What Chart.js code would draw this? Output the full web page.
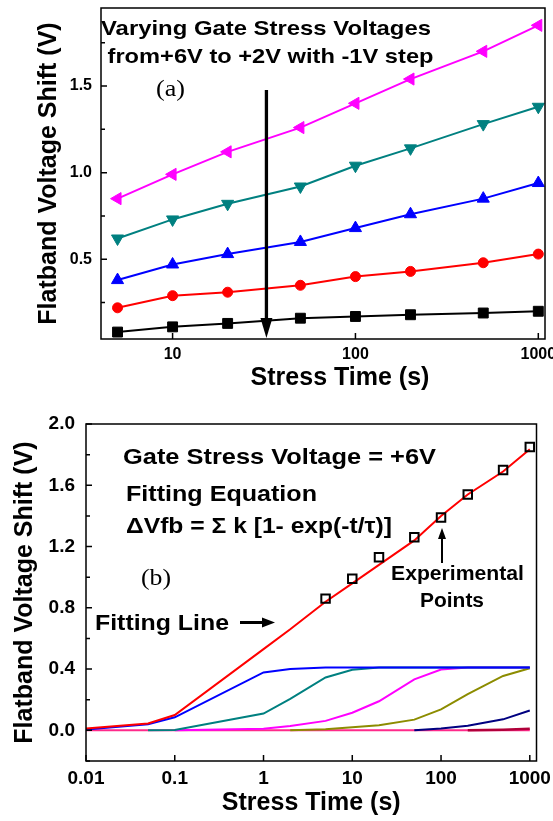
<!DOCTYPE html>
<html>
<head>
<meta charset="utf-8">
<script src="https://cdn.jsdelivr.net/npm/chart.js@4.4.1/dist/chart.umd.min.js"></script>
<style>
  html, body { margin: 0; padding: 0; background: #fff; }
  #wrap { position: relative; width: 553px; height: 821px; overflow: hidden; }
  .box { position: absolute; left: 0; width: 553px; }
</style>
</head>
<body>
<div id="wrap">
  <div class="box" style="top:0;height:400px"><canvas id="chartA"></canvas></div>
  <div class="box" style="top:400px;height:421px"><canvas id="chartB"></canvas></div>
</div>
<script>
// panel (a): flatband shift vs stress time, gate stress +6V down to +2V
const timesA = [5, 10, 20, 50, 100, 200, 500, 1000];
const shift6V = [0.85, 0.99, 1.12, 1.26, 1.40, 1.54, 1.70, 1.85];
const shift5V = [0.62, 0.73, 0.82, 0.92, 1.04, 1.14, 1.28, 1.38];
const shift4V = [0.38, 0.47, 0.53, 0.60, 0.68, 0.76, 0.85, 0.94];
const shift3V = [0.22, 0.29, 0.31, 0.35, 0.40, 0.43, 0.48, 0.53];
const shift2V = [0.08, 0.11, 0.13, 0.16, 0.17, 0.18, 0.19, 0.20];
const yTicksA = [0.5, 1.0, 1.5];
const yMinorA = [0.25, 0.75, 1.25, 1.75];
const xTicksA = [10, 100, 1000];

// panel (b): +6V data with fitting line and its exponential terms
const expPoints = [0.86, 0.99, 1.13, 1.26, 1.39, 1.54, 1.70, 1.85];
const timesB = [0.01, 0.05, 0.1, 1, 2, 5, 10, 20, 50, 100, 200, 500, 1000];
const fitLine = [0.012, 0.045, 0.10, 0.53, 0.66, 0.84, 0.96, 1.08, 1.24, 1.40, 1.54, 1.69, 1.835];
const term1 = [0.005, 0.04, 0.085, 0.378, 0.40, 0.41, 0.41, 0.41, 0.41, 0.41, 0.41, 0.41, 0.41];
const term2 = [null, 0.0, 0.003, 0.11, 0.205, 0.345, 0.395, 0.41, 0.41, 0.41, 0.41, 0.41, 0.41];
const term3 = [null, null, 0.0, 0.01, 0.028, 0.062, 0.115, 0.19, 0.333, 0.397, 0.41, 0.41, 0.41];
const term4 = [null, null, null, null, 0.0, 0.008, 0.02, 0.033, 0.07, 0.137, 0.236, 0.355, 0.405];
const term5 = [null, null, null, null, null, null, null, null, 0.0, 0.012, 0.03, 0.072, 0.13];
const term6 = [null, null, null, null, null, null, null, null, null, null, 0.0, 0.004, 0.01];
const term7 = [0, 0, 0, 0, 0, 0, 0, 0, 0, 0, 0, 0, 0];
const yTicksB = [0.0, 0.4, 0.8, 1.2, 1.6, 2.0];
const yMinorB = [-0.2, 0.2, 0.6, 1.0, 1.4, 1.8];
const xTicksB = [0.01, 0.1, 1, 10, 100, 1000];

const FONT = '"Liberation Sans", Arial, Helvetica, sans-serif';
const SERIF = '"Liberation Serif", "Times New Roman", serif';

function pts(xs, ys) {
    return xs.map((x, i) => ({ x: x, y: ys[i] }));
}

function fitText(ctx, text, x, y, font, width) {
    ctx.save();
    ctx.font = font;
    ctx.textAlign = "left";
    ctx.textBaseline = "alphabetic";
    ctx.fillStyle = "#000";
    const w = ctx.measureText(text).width;
    ctx.translate(x, y);
    ctx.scale(width / w, 1);
    ctx.fillText(text, 0, 0);
    ctx.restore();
}

function arrow(ctx, x1, y1, x2, y2, lw, headLen, headHalf) {
    const ang = Math.atan2(y2 - y1, x2 - x1);
    const bx = x2 - Math.cos(ang) * headLen;
    const by = y2 - Math.sin(ang) * headLen;
    ctx.save();
    ctx.strokeStyle = "#000";
    ctx.fillStyle = "#000";
    ctx.lineWidth = lw;
    ctx.beginPath();
    ctx.moveTo(x1, y1);
    ctx.lineTo(bx, by);
    ctx.stroke();
    ctx.beginPath();
    ctx.moveTo(x2, y2);
    ctx.lineTo(bx + Math.sin(ang) * headHalf, by - Math.cos(ang) * headHalf);
    ctx.lineTo(bx - Math.sin(ang) * headHalf, by + Math.cos(ang) * headHalf);
    ctx.closePath();
    ctx.fill();
    ctx.restore();
}

// box around plot + inward tick marks
const frameTicks = {
    id: "frameTicks",
    afterDatasetsDraw(chart, args, opts) {
        const { ctx, chartArea: a, scales: { x, y } } = chart;
        ctx.save();
        ctx.strokeStyle = "#000";
        ctx.lineWidth = 1.5;
        ctx.strokeRect(a.left, a.top, a.right - a.left, a.bottom - a.top);
        ctx.beginPath();
        y.ticks.forEach(t => {
            const py = y.getPixelForValue(t.value);
            ctx.moveTo(a.left, py);
            ctx.lineTo(a.left + 6, py);
        });
        opts.yMinor.forEach(v => {
            const py = y.getPixelForValue(v);
            ctx.moveTo(a.left, py);
            ctx.lineTo(a.left + 4, py);
        });
        x.ticks.forEach(t => {
            const px = x.getPixelForValue(t.value);
            ctx.moveTo(px, a.bottom);
            ctx.lineTo(px, a.bottom - 6);
        });
        ctx.stroke();
        ctx.restore();
    }
};

function axisFont(size) {
    return { family: FONT, size: size, weight: "bold" };
}

// ---------- panel (a) ----------
const notesA = {
    id: "notesA",
    afterDraw(chart) {
        const ctx = chart.ctx;
        const x = chart.scales.x;
        fitText(ctx, "Varying Gate Stress Voltages", 101, 35, "bold 21px " + FONT, 330);
        fitText(ctx, "from+6V to +2V with -1V step", 107.5, 63, "bold 21px " + FONT, 326);
        fitText(ctx, "(a)", 156, 96, "24px " + SERIF, 29);
        const ax = x.getPixelForValue(32.6);
        arrow(ctx, ax, 90, ax, 338, 3.3, 20, 6);
        ctx.save();
        ctx.font = "bold 25px " + FONT;
        ctx.fillStyle = "#000";
        ctx.textAlign = "center";
        ctx.textBaseline = "alphabetic";
        ctx.fillText("Stress Time (s)", 340, 385);
        ctx.restore();
    }
};

new Chart(document.getElementById("chartA"), {
    type: "line",
    data: {
        datasets: [
            { label: "+2V", data: pts(timesA, shift2V), borderColor: "#000000", backgroundColor: "#000000",
              pointStyle: "rect", pointRadius: 7 },
            { label: "+3V", data: pts(timesA, shift3V), borderColor: "#ff0000", backgroundColor: "#ff0000",
              pointStyle: "circle", pointRadius: 5 },
            { label: "+4V", data: pts(timesA, shift4V), borderColor: "#0000ff", backgroundColor: "#0000ff",
              pointStyle: "triangle", pointRadius: 7 },
            { label: "+5V", data: pts(timesA, shift5V), borderColor: "#008080", backgroundColor: "#008080",
              pointStyle: "triangle", pointRotation: 180, pointRadius: 7 },
            { label: "+6V", data: pts(timesA, shift6V), borderColor: "#ff00ff", backgroundColor: "#ff00ff",
              pointStyle: "triangle", pointRotation: -90, pointRadius: 7 }
        ]
    },
    options: {
        responsive: true,
        maintainAspectRatio: false,
        animation: false,
        devicePixelRatio: 1,
        layout: { padding: { left: 0, right: 8, top: 4, bottom: 0 } },
        elements: {
            line: { borderWidth: 2, tension: 0 },
            point: { borderWidth: 1, hoverRadius: 7 }
        },
        plugins: {
            legend: { display: false },
            tooltip: { enabled: false },
            frameTicks: { yMinor: yMinorA }
        },
        scales: {
            x: {
                type: "logarithmic",
                min: 4.06,
                max: 1088,
                afterBuildTicks: s => { s.ticks = xTicksA.map(v => ({ value: v })); },
                afterFit: s => { s.height = 61; s.paddingLeft = 0; s.paddingRight = 0; },
                grid: { display: false, drawTicks: false },
                border: { display: false },
                ticks: {
                    color: "#000", font: axisFont(16), padding: 6,
                    autoSkip: false, maxRotation: 0,
                    callback: v => String(v)
                },
                title: { display: false }
            },
            y: {
                type: "linear",
                min: 0.04,
                max: 1.95,
                afterBuildTicks: s => { s.ticks = yTicksA.map(v => ({ value: v })); },
                afterFit: s => { s.width = 101; s.paddingTop = 0; s.paddingBottom = 0; },
                grid: { display: false, drawTicks: false },
                border: { display: false },
                ticks: {
                    color: "#000", font: axisFont(16), padding: 9,
                    callback: v => v.toFixed(1)
                },
                title: {
                    display: true, text: "Flatband Voltage Shift (V)", color: "#000",
                    font: axisFont(25), padding: { top: 34, bottom: 0 }
                }
            }
        }
    },
    plugins: [frameTicks, notesA]
});

// ---------- panel (b) ----------
const notesB = {
    id: "notesB",
    afterDraw(chart) {
        const ctx = chart.ctx;
        fitText(ctx, "Gate Stress Voltage = +6V", 123, 64, "bold 22px " + FONT, 313);
        fitText(ctx, "Fitting Equation", 126, 101, "bold 22px " + FONT, 191);
        fitText(ctx, "\u0394Vfb = \u03a3 k [1- exp(-t/\u03c4)]", 126, 133, "bold 22px " + FONT, 266);
        fitText(ctx, "(b)", 141, 185, "24px " + SERIF, 30);
        fitText(ctx, "Experimental", 391, 180, "bold 20px " + FONT, 133);
        fitText(ctx, "Points", 420, 206.5, "bold 20px " + FONT, 64);
        fitText(ctx, "Fitting Line", 95, 230, "bold 22px " + FONT, 134);
        arrow(ctx, 240, 222.5, 275, 222.5, 3, 13, 5);
        arrow(ctx, 442, 163, 442, 128, 2, 11, 4);
    }
};

new Chart(document.getElementById("chartB"), {
    type: "line",
    data: {
        datasets: [
            { label: "Experimental Points", data: pts(timesA, expPoints), showLine: false,
              borderColor: "#000", backgroundColor: "rgba(0,0,0,0)", pointStyle: "rect",
              pointRadius: 6, pointBorderWidth: 2 },
            { label: "Fitting Line", data: pts(timesB, fitLine), borderColor: "#ff0000", pointRadius: 0 },
            { label: "term 1", data: pts(timesB, term1), borderColor: "#0000ff", pointRadius: 0 },
            { label: "term 2", data: pts(timesB, term2), borderColor: "#008080", pointRadius: 0 },
            { label: "term 3", data: pts(timesB, term3), borderColor: "#ff00ff", pointRadius: 0 },
            { label: "term 4", data: pts(timesB, term4), borderColor: "#8c8c00", pointRadius: 0 },
            { label: "term 5", data: pts(timesB, term5), borderColor: "#000080", pointRadius: 0 },
            { label: "term 6", data: pts(timesB, term6), borderColor: "#b0003a", pointRadius: 0, borderWidth: 2.5 },
            { label: "term 7", data: pts(timesB, term7), borderColor: "#ff2a8a", pointRadius: 0 }
        ]
    },
    options: {
        responsive: true,
        maintainAspectRatio: false,
        animation: false,
        devicePixelRatio: 1,
        layout: { padding: { left: 0, right: 16.5, top: 24, bottom: 0 } },
        elements: {
            line: { borderWidth: 2, tension: 0 },
            point: { hoverRadius: 6 }
        },
        plugins: {
            legend: { display: false },
            tooltip: { enabled: false },
            frameTicks: { yMinor: yMinorB }
        },
        scales: {
            x: {
                type: "logarithmic",
                min: 0.01,
                max: 1190,
                afterBuildTicks: s => { s.ticks = xTicksB.map(v => ({ value: v })); },
                afterFit: s => { s.height = 60; s.paddingLeft = 0; s.paddingRight = 0; },
                grid: { display: false, drawTicks: false },
                border: { display: false },
                ticks: {
                    color: "#000", font: axisFont(19), padding: 6,
                    autoSkip: false, maxRotation: 0,
                    callback: v => String(v)
                },
                title: {
                    display: true, text: "Stress Time (s)", color: "#000",
                    font: axisFont(25), padding: { top: 0, bottom: 3 }
                }
            },
            y: {
                type: "linear",
                min: -0.2,
                max: 2.0,
                afterBuildTicks: s => { s.ticks = yTicksB.map(v => ({ value: v })); },
                afterFit: s => { s.width = 86; s.paddingTop = 0; s.paddingBottom = 0; },
                grid: { display: false, drawTicks: false },
                border: { display: false },
                ticks: {
                    color: "#000", font: axisFont(19), padding: 11,
                    callback: v => v.toFixed(1)
                },
                title: {
                    display: true, text: "Flatband Voltage Shift (V)", color: "#000",
                    font: axisFont(25), padding: { top: 10, bottom: 0 }
                }
            }
        }
    },
    plugins: [frameTicks, notesB]
});
</script>
</body>
</html>
